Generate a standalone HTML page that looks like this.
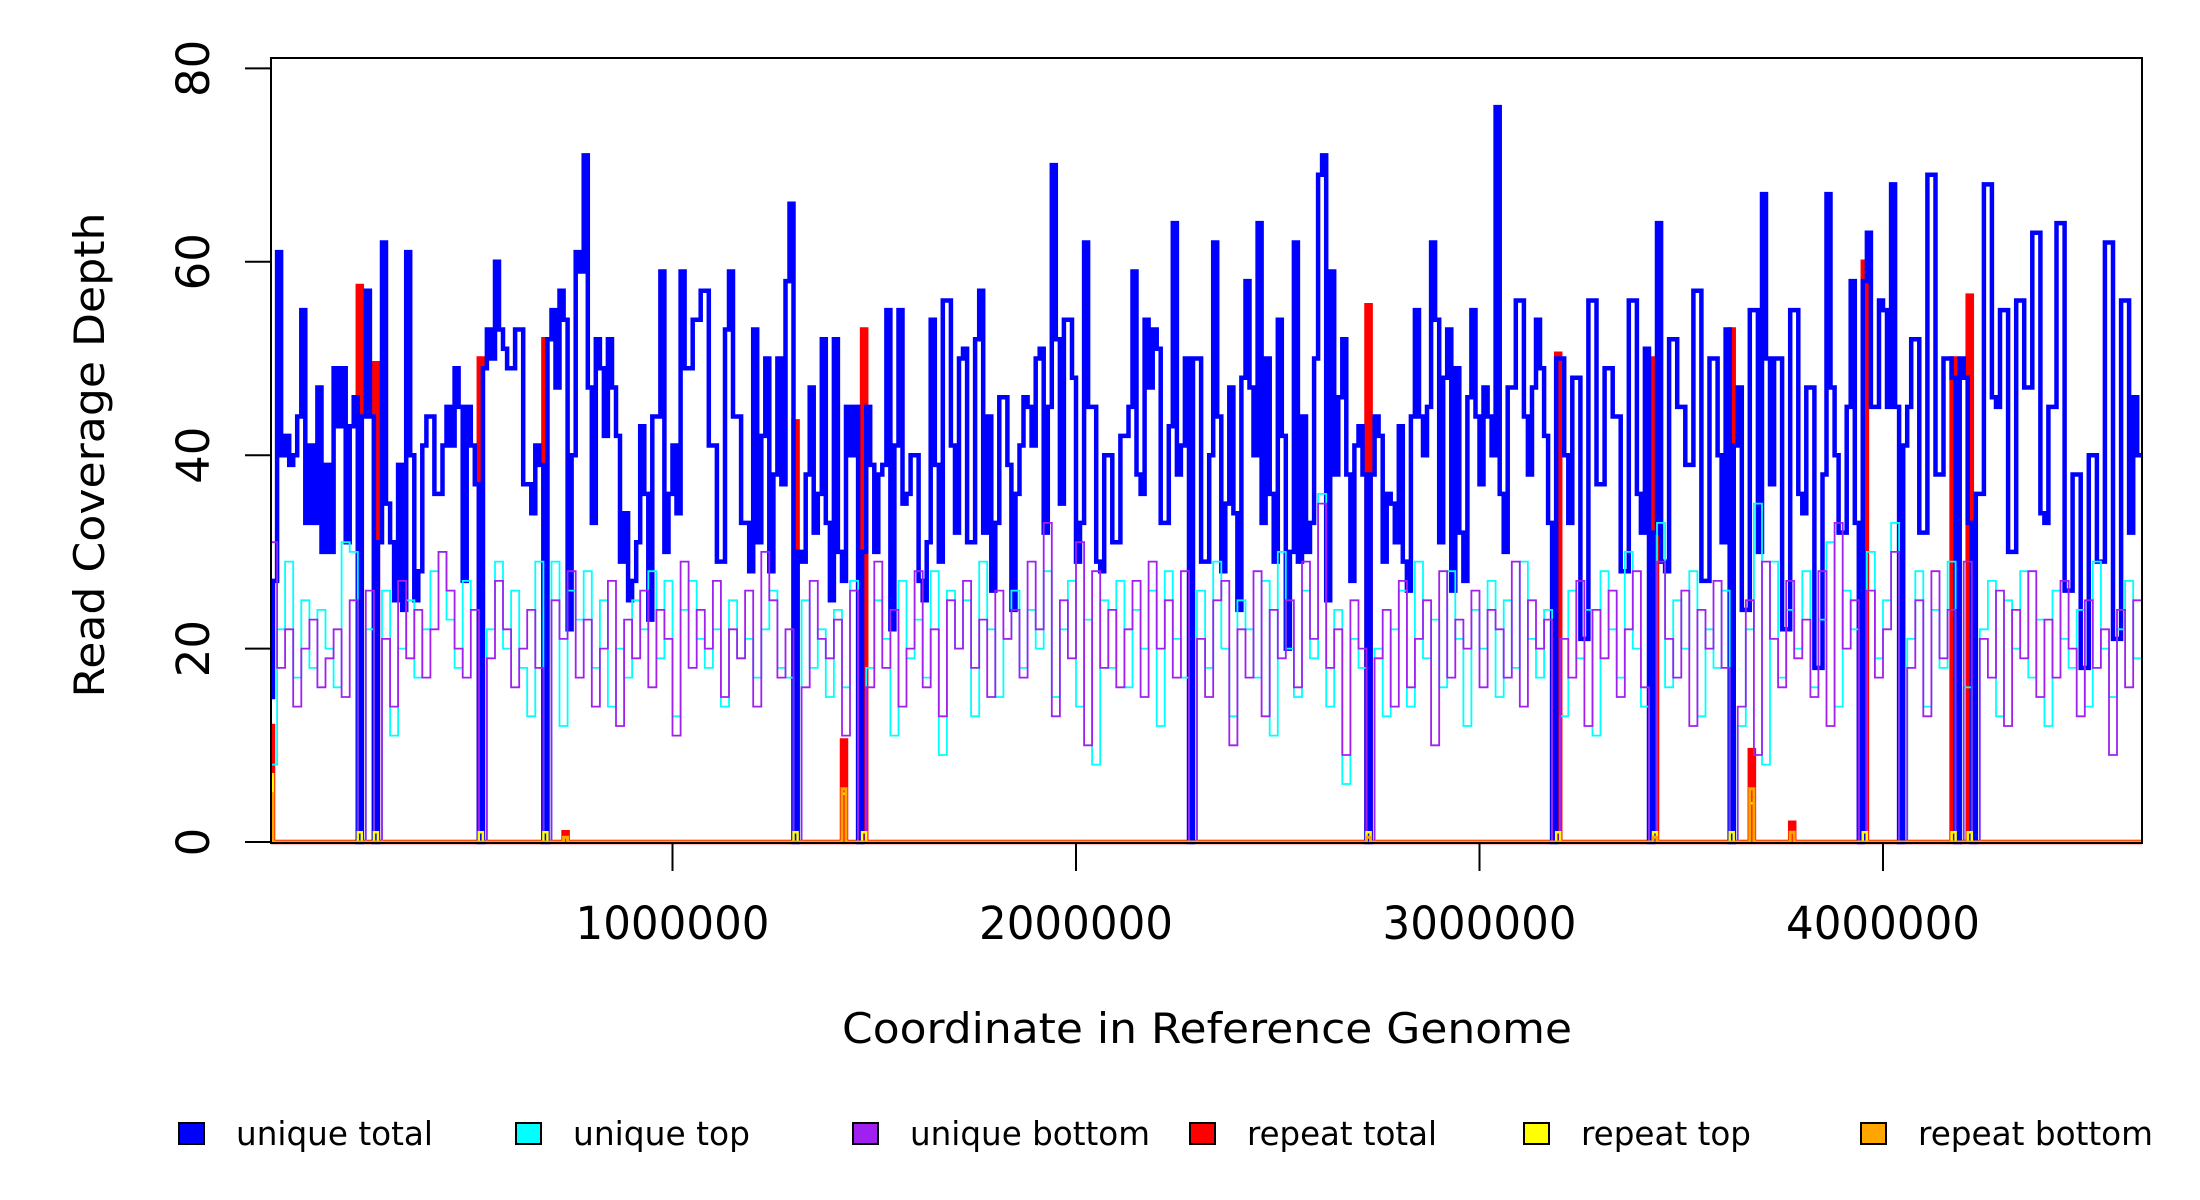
<!DOCTYPE html>
<html><head><meta charset="utf-8"><style>
html,body{margin:0;padding:0;background:#fff;}
svg{display:block;font-family:"DejaVu Sans","Liberation Sans",sans-serif;}
</style></head><body>
<svg id="chart" width="2200" height="1200" viewBox="0 0 2200 1200" xmlns="http://www.w3.org/2000/svg">
<defs><clipPath id="plotclip"><rect x="271" y="58" width="1871" height="787"/></clipPath></defs>
<rect x="0" y="0" width="2200" height="1200" fill="#fff"/>
<g id="series" clip-path="url(#plotclip)"></g>
<rect x="271" y="58" width="1871" height="785" fill="none" stroke="#000" stroke-width="2"/>
<g id="yaxis"></g>
<g id="xaxis"></g>
<text x="1207" y="1043" font-size="42" text-anchor="middle" textLength="730" lengthAdjust="spacingAndGlyphs">Coordinate in Reference Genome</text>
<text transform="translate(104,455) rotate(-90)" font-size="42" text-anchor="middle" textLength="485" lengthAdjust="spacingAndGlyphs">Read Coverage Depth</text>
<g id="legend"></g>
</svg>
<script>
const totalBinSize = 10000;
const strandBinSize = 20000;
const repeatBinSize = 10000;
const genomeLength = 4642000;
const yTicks = [0, 20, 40, 60, 80];
const xTicks = [1000000, 2000000, 3000000, 4000000];
const xTickLabels = ["1000000", "2000000", "3000000", "4000000"];
const uniqueTotal = [15,27,61,40,42,39,40,44,55,33,41,33,47,30,39,30,49,43,49,31,
43,46,0,44,57,44,0,31,62,35,31,25,39,24,61,40,25,28,41,44,
44,36,36,41,45,41,49,45,27,45,41,37,0,49,53,50,60,53,51,49,
49,53,53,37,37,34,41,39,0,52,55,47,57,54,22,40,61,59,71,47,
33,52,49,42,52,47,42,29,34,25,27,31,43,36,23,44,44,59,30,36,
41,34,59,49,49,54,54,57,57,41,41,29,29,53,59,44,44,33,33,28,
53,31,42,50,28,38,50,37,58,66,0,30,29,38,47,32,36,52,33,25,
52,30,27,45,40,45,0,30,45,39,30,38,39,55,22,41,55,35,36,40,
40,27,25,31,54,39,29,56,56,41,32,50,51,31,31,52,57,32,44,26,
33,46,46,39,24,36,41,46,45,41,50,51,32,45,70,52,35,54,54,48,
29,33,62,45,45,29,28,40,40,31,31,42,42,45,59,38,36,54,47,53,
51,33,33,43,64,38,41,50,0,50,50,29,29,40,62,44,28,35,47,34,
24,48,58,47,40,64,33,50,36,29,54,42,20,30,62,29,44,30,33,50,
69,71,25,59,38,46,52,38,27,41,43,38,0,38,44,42,29,36,35,31,
43,29,26,44,55,44,40,45,62,54,31,48,53,26,49,32,27,46,55,44,
37,47,44,40,76,36,30,47,47,56,56,44,38,47,54,49,42,33,0,50,
50,40,33,48,48,21,21,56,56,37,37,49,49,44,44,28,28,56,56,36,
32,51,0,32,64,29,28,52,52,45,45,39,39,57,57,27,27,50,50,40,
31,53,0,41,47,24,24,55,55,30,67,50,37,50,50,22,22,55,55,36,
34,47,47,18,18,38,67,47,40,32,32,45,58,33,0,58,63,45,45,56,
55,45,68,45,0,41,45,52,52,32,32,69,69,38,38,50,50,48,0,50,
48,33,0,36,36,68,68,46,45,55,55,30,30,56,56,47,47,63,63,34,
33,45,45,64,64,26,26,38,38,18,18,40,40,29,29,62,62,21,21,56,
56,32,46,40];
const uniqueTop = [8,22,29,17,25,18,24,20,16,31,
30,0,22,0,26,11,20,25,17,22,
28,30,23,18,27,24,0,22,29,20,
26,18,13,29,0,29,12,26,23,28,
18,25,14,20,17,25,22,28,19,27,
13,24,27,21,18,22,14,25,19,21,
17,22,26,18,17,0,25,18,22,15,
24,16,27,0,18,25,21,11,27,19,
23,17,28,9,26,20,25,13,29,22,
15,21,26,18,24,20,28,15,22,27,
14,23,8,25,18,27,16,24,20,26,
12,28,21,17,0,26,18,29,20,13,
25,22,17,27,11,30,20,15,26,19,
36,14,24,6,21,18,0,20,13,22,
26,14,29,19,23,16,28,21,12,24,
20,27,15,25,18,29,21,17,24,0,
13,26,19,24,11,28,22,17,30,20,
14,0,33,16,25,20,28,13,22,18,
26,0,12,22,35,8,29,17,24,20,
28,16,23,31,14,26,22,0,30,19,
25,33,0,21,28,14,24,18,29,0,
16,0,22,27,13,25,20,28,17,23,
12,26,21,18,24,14,29,20,15,22,
27,19];
const uniqueBottom = [31,18,22,14,20,23,16,19,22,15,
25,0,26,0,21,14,27,19,24,17,
22,30,26,20,17,24,0,19,27,22,
16,20,24,18,0,25,21,28,17,23,
14,20,27,12,23,19,26,16,24,21,
11,29,18,24,20,27,15,22,19,26,
14,30,25,17,22,0,16,27,21,19,
23,11,26,0,16,29,18,24,14,20,
28,16,22,13,25,20,27,18,23,15,
26,21,24,17,29,22,33,13,25,19,
31,10,28,18,24,16,22,27,15,29,
20,25,17,28,0,21,15,25,27,10,
22,17,28,13,24,19,25,16,29,21,
35,18,22,9,25,20,0,19,24,14,
27,16,21,25,10,28,17,23,20,26,
16,24,22,17,29,14,25,20,23,0,
21,17,27,12,24,19,26,15,22,28,
16,0,29,21,17,26,12,24,20,27,
18,0,14,25,9,29,21,16,27,19,
23,15,28,12,33,20,25,0,26,17,
22,30,0,18,25,13,28,19,24,0,
29,0,21,17,26,12,24,19,28,15,
23,17,27,20,13,25,18,22,9,24,
16,25];
// repeat series: nonzero bins only (genome coordinate of bin start), zero elsewhere
const repeatBins = [0, 220000, 260000, 520000, 680000, 730000, 1300000, 1420000, 1470000, 2720000, 3190000, 3430000, 3620000, 3670000, 3770000, 3950000, 4170000, 4210000];
const repeatTotal = [12, 57.5, 49.5, 50, 52, 1, 43.5, 10.5, 53, 55.5, 50.5, 50, 53, 9.5, 2, 60, 50, 56.5];
const repeatTop = [7, 1, 1, 1, 1, 0.5, 1, 5, 1, 1, 1, 1, 1, 4, 1, 1, 1, 1];
const repeatBottom = [5, 0, 0, 0, 0, 0.5, 0, 5.5, 0, 0.5, 0, 0.5, 0, 5.5, 1, 0, 0, 0];
const legendLabels = ["unique total","unique top","unique bottom","repeat total","repeat top","repeat bottom"];
const legendColors = ["#0000ff","#00ffff","#a020f0","#ff0000","#ffff00","#ffa500"];

const NS = "http://www.w3.org/2000/svg";
const X0 = 269, XPX = 403.5 / 1e6, Y0 = 842, YPX = 9.67;
function sx(c){ return X0 + c * XPX; }
function sy(v){ return Y0 - v * YPX; }
function stepPath(vals, bs){
  let d = "";
  for (let i = 0; i < vals.length; i++){
    const xa = sx(i * bs), xb = sx(Math.min((i + 1) * bs, genomeLength)), y = sy(vals[i]);
    d += (i === 0 ? "M" : "L") + xa.toFixed(1) + "," + y.toFixed(1) + "L" + xb.toFixed(1) + "," + y.toFixed(1);
  }
  return d;
}
function expand(vals){
  const n = Math.ceil(genomeLength / repeatBinSize);
  const out = new Array(n).fill(0);
  repeatBins.forEach((b, k) => { out[Math.round(b / repeatBinSize)] = vals[k]; });
  return out;
}
const series = document.getElementById("series");
const defs = [
  ["repeat-total-line", expand(repeatTotal), "#ff0000", 4.5, repeatBinSize],
  ["unique-total-line", uniqueTotal, "#0000ff", 4.5, totalBinSize],
  ["unique-top-line", uniqueTop, "#00ffff", 1.8, strandBinSize],
  ["unique-bottom-line", uniqueBottom, "#a020f0", 1.8, strandBinSize],
  ["repeat-top-line", expand(repeatTop), "#ffff00", 2.5, repeatBinSize],
  ["repeat-bottom-line", expand(repeatBottom), "#ffa500", 3, repeatBinSize]
];
defs.forEach(s => {
  const p = document.createElementNS(NS, "path");
  p.setAttribute("d", stepPath(s[1], s[4]));
  p.setAttribute("fill", "none");
  p.setAttribute("stroke", s[2]);
  p.setAttribute("stroke-width", s[3]);
  
  
  series.appendChild(p);
});
const yaxis = document.getElementById("yaxis");
yTicks.forEach(v => {
  const l = document.createElementNS(NS, "line");
  l.setAttribute("x1", 245); l.setAttribute("x2", 271);
  l.setAttribute("y1", sy(v)); l.setAttribute("y2", sy(v));
  l.setAttribute("stroke", "#000"); l.setAttribute("stroke-width", 2);
  
  
  yaxis.appendChild(l);
  const t = document.createElementNS(NS, "text");
  t.setAttribute("transform", "translate(209," + sy(v) + ") rotate(-90)");
  t.setAttribute("text-anchor", "middle");
  t.setAttribute("font-size", "45");
  t.textContent = String(v);
  
  
  yaxis.appendChild(t);
});
const xaxis = document.getElementById("xaxis");
xTicks.forEach((c, i) => {
  const l = document.createElementNS(NS, "line");
  l.setAttribute("x1", sx(c)); l.setAttribute("x2", sx(c));
  l.setAttribute("y1", 843); l.setAttribute("y2", 871);
  l.setAttribute("stroke", "#000"); l.setAttribute("stroke-width", 2);
  
  
  xaxis.appendChild(l);
  const t = document.createElementNS(NS, "text");
  t.setAttribute("x", sx(c)); t.setAttribute("y", 939);
  t.setAttribute("text-anchor", "middle");
  t.setAttribute("font-size", "45");
  t.setAttribute("textLength", "194");
  t.setAttribute("lengthAdjust", "spacingAndGlyphs");
  t.textContent = xTickLabels[i];
  
  
  xaxis.appendChild(t);
});
const legend = document.getElementById("legend");
const legX = [179, 516, 853, 1190, 1524, 1861];
const legW = [197, 177, 240, 190, 170, 235];
legendLabels.forEach((lab, i) => {
  const g = document.createElementNS(NS, "g");
  
  
  const r = document.createElementNS(NS, "rect");
  r.setAttribute("x", legX[i]); r.setAttribute("y", 1123);
  r.setAttribute("width", 25); r.setAttribute("height", 21);
  r.setAttribute("fill", legendColors[i]); r.setAttribute("stroke", "#000"); r.setAttribute("stroke-width", 2);
  
  
  g.appendChild(r);
  const t = document.createElementNS(NS, "text");
  t.setAttribute("x", legX[i] + 57); t.setAttribute("y", 1145);
  t.setAttribute("font-size", "33");
  t.setAttribute("textLength", legW[i]);
  t.setAttribute("lengthAdjust", "spacingAndGlyphs");
  t.textContent = lab;
  
  
  g.appendChild(t);
  legend.appendChild(g);
});
</script>
</body></html>
